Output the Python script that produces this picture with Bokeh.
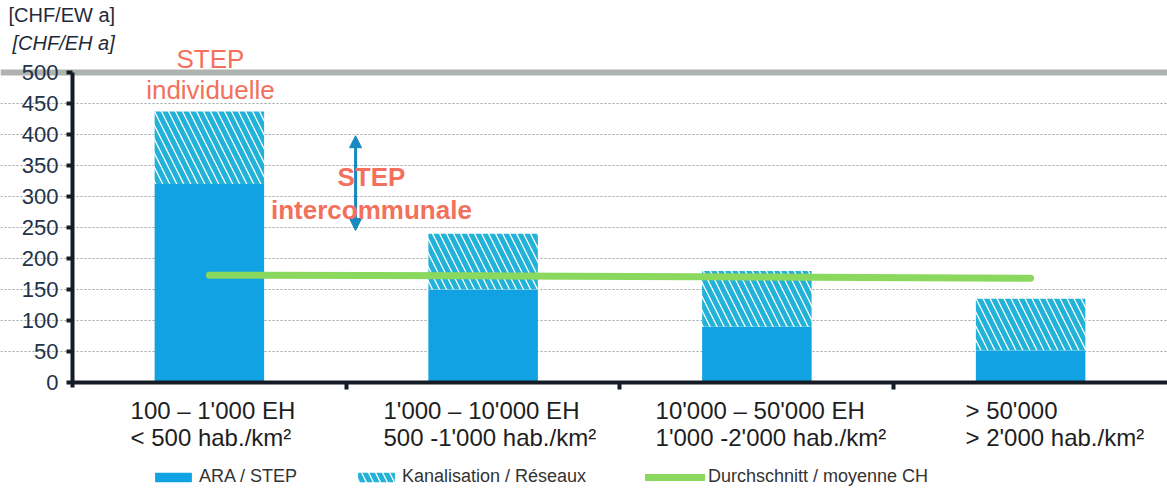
from bokeh.plotting import figure
from bokeh.models import (Range1d, FixedTicker, Label, Arrow, NormalHead, Grid,
                          Legend, LegendItem)
from bokeh.embed import file_html
from bokeh.resources import INLINE

# ---------------- data ----------------
cat_line1 = ["100 – 1'000 EH", "1'000 – 10'000 EH", "10'000 – 50'000 EH", "> 50'000"]
cat_line2 = ["< 500 hab./km²", "500 -1'000 hab./km²", "1'000 -2'000 hab./km²", "> 2'000 hab./km²"]
ara_step = [320, 150, 90, 52]          # ARA / STEP
kanalisation = [117, 90, 90, 83]       # Kanalisation / Réseaux (stacked on top)
average_ch = [173, 172, 170, 168]      # Durchschnitt / moyenne CH
y_ticks = [0, 50, 100, 150, 200, 250, 300, 350, 400, 450, 500]
grid_ticks = [50, 100, 150, 200, 250, 300, 350, 400, 450]
legend_labels = ["ARA / STEP", "Kanalisation / Réseaux", "Durchschnitt / moyenne CH"]

xs = [i + 1 for i in range(len(cat_line1))]
bounds = [x + 0.5 for x in xs[:-1]]
totals = [a + k for a, k in zip(ara_step, kanalisation)]

# layout offsets for left-aligned category labels (relative to bar centre)
label_shift = [-0.288, -0.364, -0.370, -0.238]

FONT = "Liberation Sans"
BLUE = "#10a2e2"
HATCH = "#22b2d8"
GREEN = "#8ad85e"
SALMON = "#f3715c"
AXIS = "#151c26"

p = figure(width=1167, height=490, output_backend="svg", toolbar_location=None,
           x_range=Range1d(0.237, 4.5), y_range=Range1d(-174.2, 616.1),
           min_border=0)
p.outline_line_color = None
p.background_fill_color = "white"

# bars
r_ara = p.vbar(x=xs, width=0.4, bottom=0, top=ara_step, fill_color=BLUE,
               line_color=None)
r_kan = p.vbar(x=xs, width=0.4, bottom=ara_step, top=totals, fill_color="white",
               line_color=None, hatch_pattern="left_diagonal_line",
               hatch_color=HATCH, hatch_scale=14, hatch_weight=5)
r_avg = p.line(xs, average_ch, line_width=7, line_color=GREEN, line_cap="round")

# grid
p.xgrid.visible = False
p.ygrid.ticker = FixedTicker(ticks=grid_ticks)
p.ygrid.bounds = (0.5, 4.5)
p.ygrid.grid_line_color = "#9aa4a4"
p.ygrid.grid_line_dash = "2 2"
p.ygrid.grid_line_width = 1
top_grid = Grid(dimension=1, ticker=FixedTicker(ticks=[y_ticks[-1]]), bounds=(0.5, 4.5),
                grid_line_color="#afb3af", grid_line_width=6)
p.add_layout(top_grid)

# y axis (fixed inside the frame)
p.yaxis.fixed_location = 0.5
p.yaxis.bounds = (-8, 500)
p.yaxis.ticker = FixedTicker(ticks=y_ticks)
p.yaxis.axis_line_width = 4
p.yaxis.axis_line_color = AXIS
p.yaxis.major_tick_line_width = 4
p.yaxis.major_tick_line_color = AXIS
p.yaxis.major_tick_out = 6
p.yaxis.major_tick_in = 0
p.yaxis.minor_tick_line_color = None
p.yaxis.major_label_text_font = FONT
p.yaxis.major_label_text_font_size = "22px"
p.yaxis.major_label_text_color = "#23334a"
p.yaxis.major_label_standoff = 8

# x axis (fixed at 0)
p.xaxis.fixed_location = 0
p.xaxis.bounds = (0.5, 4.5)
p.xaxis.ticker = FixedTicker(ticks=[], minor_ticks=bounds)
p.xaxis.axis_line_width = 4
p.xaxis.axis_line_color = AXIS
p.xaxis.major_tick_line_color = None
p.xaxis.major_tick_out = 0
p.xaxis.major_tick_in = 0
p.xaxis.minor_tick_line_color = AXIS
p.xaxis.minor_tick_line_width = 4
p.xaxis.minor_tick_out = 7
p.xaxis.minor_tick_in = 0

# category labels
for x, s, l1, l2 in zip(xs, label_shift, cat_line1, cat_line2):
    for txt, yy in [(l1, -45), (l2, -89)]:
        p.add_layout(Label(x=x + s, y=yy, text=txt, text_font=FONT,
                           text_font_size="24px", text_color="#1e1e1e",
                           text_baseline="middle", text_align="left"))

# unit labels
p.add_layout(Label(x=0.266, y=592, text="[CHF/EW a]", text_font=FONT,
                   text_font_size="20px", text_color="#1e2a38",
                   text_baseline="middle"))
p.add_layout(Label(x=0.281, y=548, text="[CHF/EH a]", text_font=FONT,
                   text_font_size="20px", text_font_style="italic",
                   text_color="#1e2a38", text_baseline="middle"))

# annotations
for txt, yy in [("STEP", 522), ("individuelle", 471)]:
    p.add_layout(Label(x=1.004, y=yy, text=txt, text_font=FONT, text_font_size="26px",
                       text_color=SALMON, text_align="center", text_baseline="middle"))
p.add_layout(Arrow(x_start=1.534, y_start=245, x_end=1.534, y_end=398,
                   line_color="#1789c0", line_width=3,
                   start=NormalHead(size=12, fill_color="#1789c0", line_color="#1789c0"),
                   end=NormalHead(size=12, fill_color="#1789c0", line_color="#1789c0")))
for txt, yy in [("STEP", 332), ("intercommunale", 279)]:
    p.add_layout(Label(x=1.592, y=yy, text=txt, text_font=FONT, text_font_size="26px",
                       text_font_style="bold", text_color=SALMON,
                       text_align="center", text_baseline="middle"))

# legend: one small legend per item so each can be placed like the original
renderers = [r_ara, r_kan, r_avg]
leg_x = [150, 353, 645]
leg_glyph_w = [46, 46, 60]
for lab, r, lx, gw in zip(legend_labels, renderers, leg_x, leg_glyph_w):
    lg = Legend(items=[LegendItem(label=lab, renderers=[r])], location=(lx, 3),
                orientation="horizontal")
    lg.border_line_color = None
    lg.background_fill_alpha = 0
    lg.padding = 0
    lg.margin = 0
    lg.label_standoff = 3
    lg.glyph_width = gw
    lg.glyph_height = 12
    lg.label_text_font = FONT
    lg.label_text_font_size = "18px"
    lg.label_text_color = "#333333"
    lg.label_height = 14
    p.add_layout(lg, "center")

open("out.html", "w").write(file_html(p, INLINE))
